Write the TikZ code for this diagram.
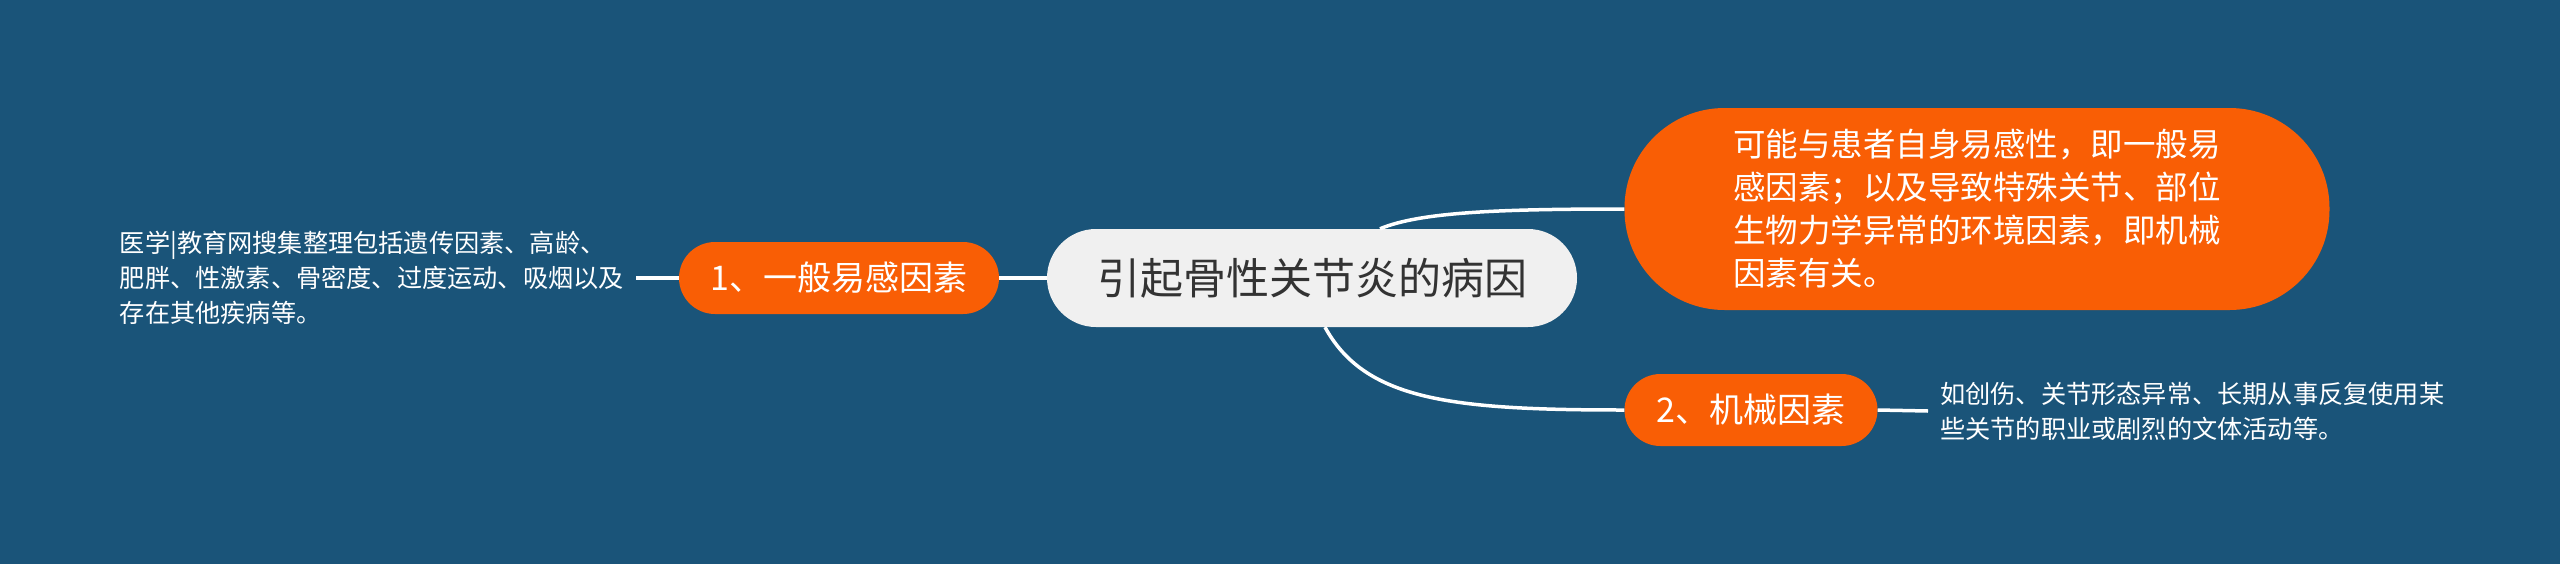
\documentclass[tikz,border=0pt]{standalone}
\usepackage{fontspec}
\setmainfont{Noto Sans CJK SC}
\usepackage{tikz}
\usetikzlibrary{calc}
\definecolor{bgblue}{HTML}{1A5479}
\definecolor{nodeorange}{HTML}{F95E05}
\definecolor{rootgrey}{HTML}{F0F0F0}
\definecolor{roottext}{HTML}{333333}
\tikzset{
  rootnode/.style={fill=rootgrey, text=roottext, rounded corners=49pt, minimum width=530pt, minimum height=98pt, font=\fontsize{43}{50}\selectfont},
  topicnode/.style={fill=nodeorange, text=white, rounded corners=36pt, minimum height=72pt, font=\fontsize{34}{40}\selectfont},
  leaftext/.style={text=white, align=left, inner sep=12pt, font=\fontsize{25.2}{35}\selectfont},
  link/.style={draw=white, line width=3.5pt}
}
\begin{document}
\begin{tikzpicture}[x=1pt, y=-1pt]
			%%%%% START %%%%%
			\useasboundingbox (0, 0) rectangle (2560, 563);
			\fill[bgblue] (-10, -10) rectangle (2570, 573);
			
			\node[rootnode] (cause) at (1312, 278) {引起骨性关节炎的病因};
			
			\node[topicnode, minimum width=320pt] (general) at (839, 278) {1、一般易感因素};
			\node[topicnode, minimum width=253pt] (mech) at (1751, 410) {2、机械因素};
			
			\node[topicnode, rounded corners=100pt, minimum width=705pt, minimum height=202pt, align=left, font=\fontsize{32.5}{43}\selectfont] (summary) at (1977, 209) {可能与患者自身易感性，即一般易\\感因素；以及导致特殊关节、部位\\生物力学异常的环境因素，即机械\\因素有关。};
			
			\node[leaftext, anchor=east] (generalnote) at (636, 278) {医学|教育网搜集整理包括遗传因素、高龄、\\肥胖、性激素、骨密度、过度运动、吸烟以及\\存在其他疾病等。};
			\node[leaftext, anchor=west] (mechnote) at (1928, 411) {如创伤、关节形态异常、长期从事反复使用某\\些关节的职业或剧烈的文体活动等。};
			
			\coordinate (uptop) at ($(cause.north)+(68, 0)$);
			\coordinate (downbot) at ($(cause.south)+(13, 0)$);
			
			\draw[link] (cause.west) -- (general.east);
			\draw[link] (general.west) -- (generalnote.east);
			\draw[link] (uptop) .. controls (1420, 212) and (1500, 209) .. (summary.west);
			\draw[link] (downbot) .. controls (1365, 400) and (1450, 410) .. (mech.west);
			\draw[link] (mech.east) -- (mechnote.west);
			%%%%% END %%%%%
\end{tikzpicture}
\end{document}
